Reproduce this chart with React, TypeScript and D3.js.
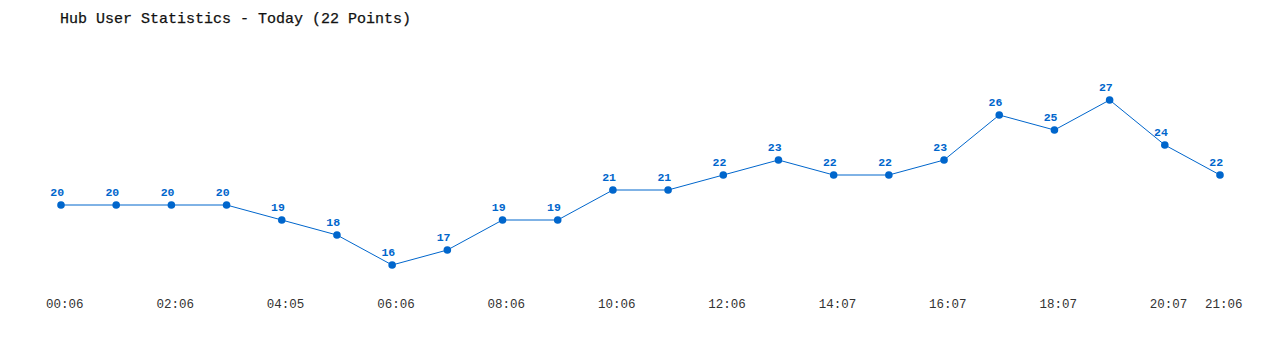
import React from "react";
import * as d3 from "d3";

const title = "Hub User Statistics - Today (22 Points)";
const values = [20, 20, 20, 20, 19, 18, 16, 17, 19, 19, 21, 21, 22, 23, 22, 22, 23, 26, 25, 27, 24, 22];
const tickIndexes = [0, 2, 4, 6, 8, 10, 12, 14, 16, 18, 20, 21];
const tickLabels = ["00:06", "02:06", "04:05", "06:06", "08:06", "10:06", "12:06", "14:07", "16:07", "18:07", "20:07", "21:06"];

export default function App() {
  const W = 1280, H = 350;
  const x = d3.scaleLinear().domain([0, values.length - 1]).range([61, 1220]);
  const y = d3.scaleLinear().domain([16, 27]).range([265, 100]);
  const line = d3.line<number>().x((_, i) => x(i)).y((d) => y(d));
  const color = "#0066cc";
  const mono = "'Liberation Mono', 'DejaVu Sans Mono', monospace";
  return (
    <svg width={W} height={H} style={{ position: "absolute", left: 0, top: 0, display: "block" }}>
      <rect width={W} height={H} fill="#fff" />
      <text x={60} y={23} fontFamily={mono} fontSize={15} fill="#111" stroke="#111" strokeWidth={0.25}>{title}</text>
      <path d={line(values) || ""} fill="none" stroke={color} strokeWidth={1} />
      {values.map((v, i) => (
        <g key={i}>
          <circle cx={x(i)} cy={y(v)} r={3.8} fill={color} />
          <text x={x(i) - 3.8} y={y(v) - 9.5} textAnchor="middle" fontFamily={mono} fontSize={11.5} fontWeight="bold" fill={color}>{v}</text>
        </g>
      ))}
      {tickIndexes.map((ti, k) => (
        <text key={k} x={x(ti) + 3.8} y={308} textAnchor="middle" fontFamily={mono} fontSize={12.5} fill="#333">{tickLabels[k]}</text>
      ))}
    </svg>
  );
}
